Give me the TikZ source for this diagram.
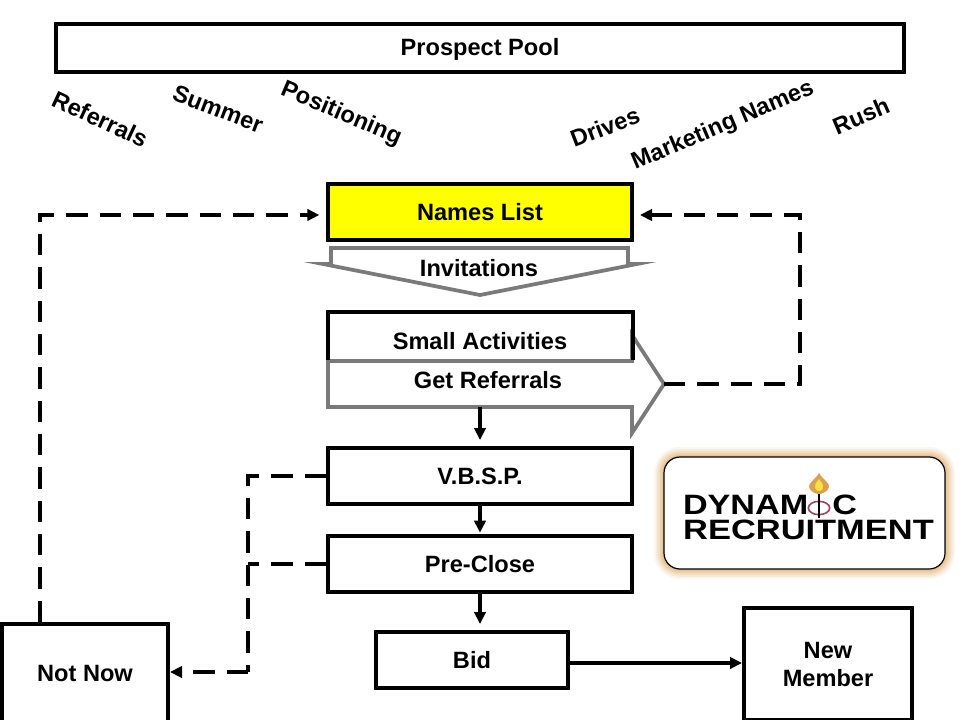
\documentclass[tikz,border=0pt]{standalone}
\usepackage{fontspec}
\setmainfont{Liberation Sans}
\usetikzlibrary{arrows.meta}
\definecolor{pureyellow}{HTML}{FFFF00}
\definecolor{grayline}{HTML}{7A7A7A}
\definecolor{glow}{HTML}{DFA860}
\definecolor{flameo}{HTML}{D9A050}
\definecolor{flamey}{HTML}{FFE040}
\definecolor{phired}{HTML}{A04060}
\tikzset{
 boxa/.style={draw=black,line width=3pt,fill=white,font=\fontsize{17.7}{21}\selectfont\bfseries,align=center,inner sep=0pt,anchor=north west},
 lbl/.style={font=\fontsize{17.7}{21}\selectfont\bfseries,inner sep=0pt,text=black},
 dashline/.style={draw=black,line width=2.3pt,dash pattern=on 16pt off 9pt},
 solidc/.style={draw=black,line width=2.3pt},
 tipped/.style={-{Triangle[length=9pt,width=8.5pt]}},
 graybox/.style={draw=grayline,line width=2.8pt,fill=white,line join=miter,miter limit=12},
 logotext/.style={inner sep=0pt,text=black,font=\fontsize{21}{24}\selectfont\bfseries},
}
\begin{document}
\begin{tikzpicture}[x=0.75pt,y=-0.75pt]
\useasboundingbox (0,0) rectangle (960,720);
\fill[white] (0,0) rectangle (960,720);
% top
\node[boxa,minimum width=848pt*0.75,minimum height=48pt*0.75] (pool) at (54,22) {\raisebox{-6pt}[0pt][0pt]{Prospect Pool}};
\node[lbl,rotate=-25] (t1) at (100,119) {Referrals};
\node[lbl,rotate=-21] (t2) at (218,109) {Summer};
\node[lbl,rotate=-23] (t3) at (341,114) {Positioning};
\node[lbl,rotate=21] (t4) at (605,127) {Drives};
\node[lbl,rotate=23] (t5) at (723,126) {Marketing Names};
\node[lbl,rotate=23] (t6) at (861,116) {Rush};
% invitations arrow
\draw[graybox] (331,248) -- (628,248) -- (628,264) -- (637,264) -- (480,295) -- (323,264) -- (331,264) -- cycle;
\node[lbl] (inv) at (479,268) {Invitations};
% names
\node[boxa,fill=pureyellow,minimum width=304pt*0.75,minimum height=56pt*0.75] (names) at (326,182) {Names List};
% get referrals
\draw[graybox] (328,361) -- (632,361) -- (632,335) -- (664,384) -- (632,433) -- (632,407) -- (328,407) -- cycle;
\coordinate (gettip) at (664,384);
\coordinate (getbot) at (480,407);
\node[lbl] (gett) at (488,380) {Get Referrals};
% small activities (its bottom edge is the arrow's)
\node[lbl,minimum width=304pt*0.75,minimum height=47pt*0.75,anchor=north west] (small) at (328,312) {};
\draw[draw=black,line width=3pt] (small.south west) -- (small.north west) -- (small.north east) -- (small.south east);
\node[lbl] (smallt) at (480,341) {Small Activities};
% others
\node[boxa,minimum width=304pt*0.75,minimum height=56pt*0.75] (vbsp) at (326,446) {V.B.S.P.};
\node[boxa,minimum width=304pt*0.75,minimum height=56pt*0.75] (pre) at (326,534) {Pre-Close};
\node[boxa,minimum width=192pt*0.75,minimum height=56pt*0.75] (bid) at (374,630) {Bid};
\node[boxa,minimum width=168pt*0.75,minimum height=112pt*0.75] (new) at (742,606) {New\\Member};
\node[boxa,minimum width=166pt*0.75,minimum height=98pt*0.75] (notnow) at (0,622) {Not Now};
% connectors
\draw[solidc,tipped] (getbot) -- ([yshift=4.5pt]vbsp.north -| getbot);
\draw[solidc,tipped] (vbsp) -- ([yshift=1pt]pre.north);
\draw[solidc,tipped] (pre.south -| getbot) -- ([yshift=4.5pt]getbot |- bid.north);
\coordinate (b1) at (570,663);
\draw[solidc,tipped] (bid.east |- b1) -- (new.west |- b1);
\coordinate (l1) at (40,215);
\draw[dashline,tipped] (notnow.north -| l1) -- (l1) -- ([xshift=-5pt]l1 -| names.west);
\coordinate (r1) at (800,384);
\coordinate (r2) at (800,215);
\draw[dashline,tipped] (gettip) -- (r1) -- (r2) -- ([xshift=4.5pt]r2 -| names.east);
\coordinate (m1) at (248,476);
\coordinate (m2) at (248,564);
\coordinate (m3) at (248,672);
\draw[dashline] (vbsp.west) -- (m1) -- (m3);
\draw[dashline] (pre.west) -- (m2);
\draw[dashline,tipped] (m3) -- (notnow.east |- m3);
% logo
\foreach \w/\o in {15/0.10,12/0.14,9/0.18,6/0.25,3/0.35}
  \draw[glow,opacity=\o,line width=\w pt,rounded corners=12pt] (664,457) rectangle (945,569);
\draw[black,line width=0.9pt,fill=white,rounded corners=12pt] (664,457) rectangle (945,569);
\node[logotext,xscale=1.22] (dyn) at (770,505) {DYNAM\hspace{14.8pt}C};
\node[logotext,xscale=1.23] (rec) at (808.5,530) {RECRUITMENT};
% phi + flame
\draw[phired,line width=1.2pt] (819,508) ellipse (8pt and 5pt);
\draw[black,line width=1.5pt] (819,490) -- (819,518);
\fill[flameo] (819,473) .. controls (815,480) and (808,483) .. (809,487) .. controls (810,491) and (815,494) .. (819,494) .. controls (823,494) and (828,491) .. (829,487) .. controls (830,483) and (823,480) .. (819,473) -- cycle;
\fill[flamey] (819,479) .. controls (816,483) and (814,485) .. (815,488) .. controls (816,492) and (822,492) .. (823,488) .. controls (824,485) and (822,483) .. (819,479) -- cycle;
\end{tikzpicture}
\end{document}
